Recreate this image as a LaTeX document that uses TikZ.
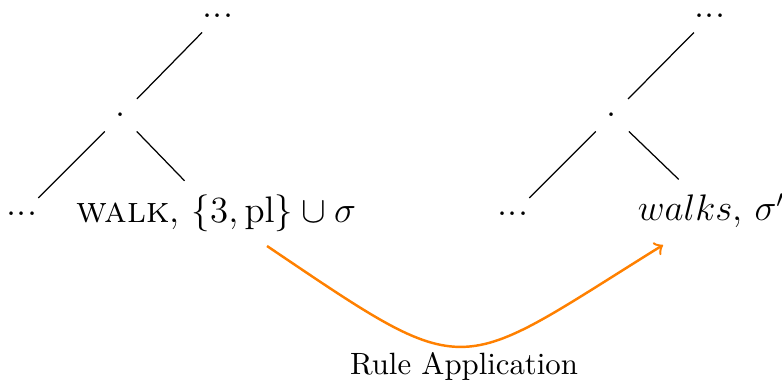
\documentclass[tikz,border=0pt]{standalone}
\begin{document}
\begin{tikzpicture}[x=0.3248pt,y=-0.3248pt,
  tnode/.style={anchor=base,inner sep=4.5pt,font=\large},
  edge/.style={draw=black,line width=0.4pt},
  rulearrow/.style={draw=orange,thick,->}]
\useasboundingbox (0,0) rectangle (782,380);
% left tree
\node[tnode] (rootL) at (218,18) {...};
\node[tnode] (dotL) at (121,117) {.};
\node[tnode] (leafL) at (22,216) {...};
\node[tnode] (walkL) at (216.5,223) {\textsc{walk}, $\{3,\mathrm{pl}\}\cup\sigma$};
\draw[edge] (rootL) -- (dotL);
\draw[edge] (dotL) -- (leafL);
\draw[edge] (dotL) -- (walkL);
% right tree
\node[tnode] (rootR) at (710,18) {...};
\node[tnode] (dotR) at (612,117) {.};
\node[tnode] (leafR) at (513,216) {...};
\node[tnode] (walkR) at (711.5,221) {$walks$, $\sigma'$};
\draw[edge] (rootR) -- (dotR);
\draw[edge] (dotR) -- (leafR);
\draw[edge] (dotR) -- (walkR);
% rule application arrow
\coordinate (s) at (267,246);
\coordinate (e) at (663,245);
\draw[rulearrow] (s) .. controls (473,385) and (452,376) .. (e);
\node[anchor=base,inner sep=0pt] (rule) at (464,374) {Rule Application};
\end{tikzpicture}
\end{document}
